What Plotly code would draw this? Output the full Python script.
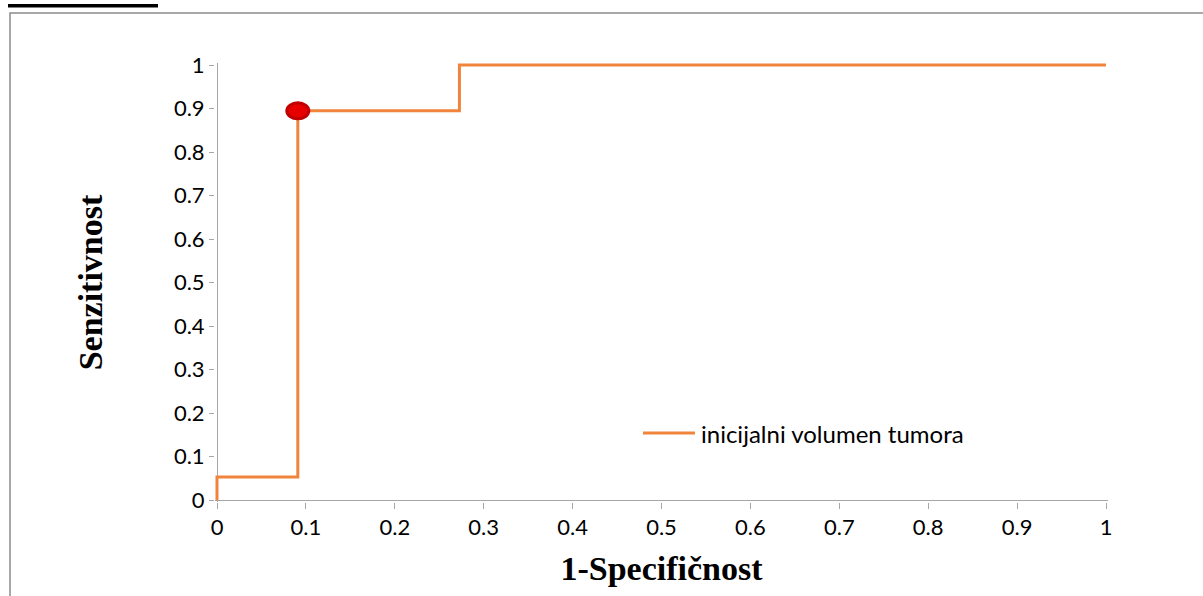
import plotly.graph_objects as go

# ROC curve data
fpr = [0.0, 0.0, 0.0909, 0.0909, 0.2727, 0.2727, 1.0]
tpr = [0.0, 0.0526, 0.0526, 0.8947, 0.8947, 1.0, 1.0]
cut_x = [0.0909]
cut_y = [0.8947]
series_name = "inicijalni volumen tumora"
tick_vals = [0, 0.1, 0.2, 0.3, 0.4, 0.5, 0.6, 0.7, 0.8, 0.9, 1]
tick_text = ["0", "0.1", "0.2", "0.3", "0.4", "0.5", "0.6", "0.7", "0.8", "0.9", "1"]
x_title = "1-Specifičnost"
y_title = "Senzitivnost"

ORANGE = "#F0843C"
AXIS = "#A6A6A6"
tick_font = dict(family="Lato", size=22, color="#000000")
title_font = dict(family="Liberation Serif", size=34, color="#000000")

W, H = 1203, 596
L, R, T, B = 215, 95, 63, 94
PW, PH = W - L - R, H - T - B


def px_to_paper_x(px):
    return (px - L) / PW


def px_to_paper_y(py):
    return (H - B - py) / PH


fig = go.Figure()
fig.add_trace(go.Scatter(
    x=fpr, y=tpr, mode="lines", name=series_name,
    line=dict(color=ORANGE, width=3), showlegend=False,
))

# cut-off point marker (ellipse, pixel-sized, anchored at the data point)
fig.add_shape(
    type="circle", xref="x", yref="y",
    xsizemode="pixel", ysizemode="pixel",
    xanchor=cut_x[0], yanchor=cut_y[0],
    x0=-11, x1=11, y0=-8, y1=8,
    fillcolor="#E60000", line=dict(color="#C00000", width=3),
    layer="above",
)

# legend (line sample + label), drawn like the original in-plot legend
fig.add_shape(type="line", xref="paper", yref="paper",
              x0=px_to_paper_x(643), x1=px_to_paper_x(695),
              y0=px_to_paper_y(433), y1=px_to_paper_y(433),
              line=dict(color=ORANGE, width=3))
fig.add_annotation(xref="paper", yref="paper",
                   x=px_to_paper_x(699), y=px_to_paper_y(434),
                   xanchor="left", yanchor="middle", showarrow=False,
                   text=series_name,
                   font=dict(family="Lato", size=24, color="#000000"))

pad_x, pad_y = 2.0 / 889.0, 2.0 / 435.0

fig.update_layout(
    width=W, height=H,
    margin=dict(l=L, r=R, t=T, b=B),
    paper_bgcolor="white", plot_bgcolor="white",
    showlegend=False,
    xaxis=dict(
        range=[-pad_x, 1 + pad_x], tickvals=tick_vals, ticktext=tick_text,
        showgrid=False, showline=False, zeroline=True, zerolinecolor=AXIS, zerolinewidth=1,
        ticks="outside", ticklen=6, tickcolor=AXIS, tickfont=tick_font,
        title=dict(text="<b>" + x_title + "</b>", font=title_font, standoff=16),
    ),
    yaxis=dict(
        range=[-pad_y, 1 + pad_y], tickvals=tick_vals, ticktext=tick_text,
        showgrid=False, showline=False, zeroline=True, zerolinecolor=AXIS, zerolinewidth=1,
        ticks="outside", ticklen=5, tickcolor=AXIS, tickfont=tick_font,
        title=dict(text="<b>" + y_title + "</b>", font=title_font, standoff=60),
    ),
)

# outer chart frame and the underline remnant of the clipped caption above
fig.add_shape(type="rect", xref="paper", yref="paper",
              x0=px_to_paper_x(10), x1=px_to_paper_x(1240),
              y0=px_to_paper_y(640), y1=px_to_paper_y(13),
              line=dict(color="#8C8C8C", width=1.5), fillcolor="rgba(0,0,0,0)", layer="below")
fig.add_shape(type="rect", xref="paper", yref="paper",
              x0=px_to_paper_x(8), x1=px_to_paper_x(158),
              y0=px_to_paper_y(7.5), y1=px_to_paper_y(4),
              line=dict(width=0), fillcolor="#000000")

fig.write_html("out.html", config={"displayModeBar": False},
               post_script="document.body.style.margin='0px';")
